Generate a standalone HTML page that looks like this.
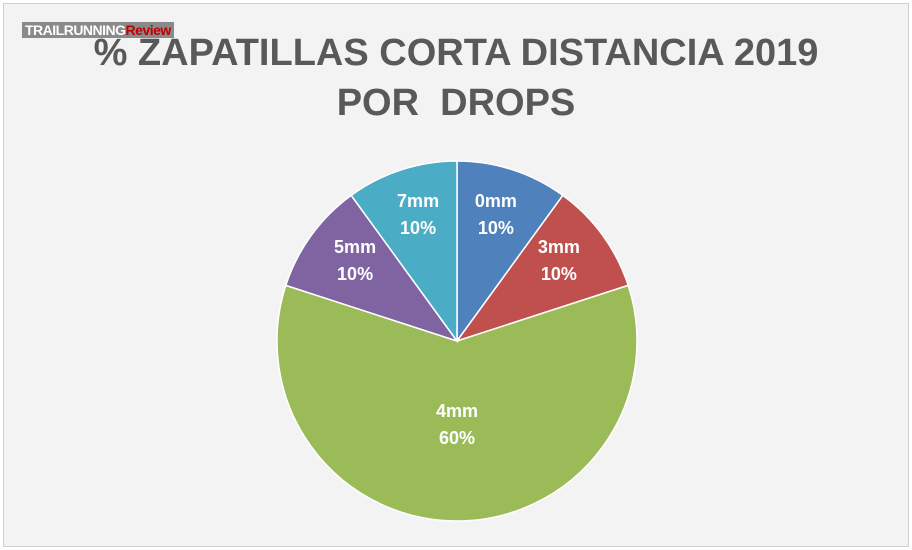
<!DOCTYPE html>
<html><head><meta charset="utf-8"><style>
body{margin:0;width:912px;height:550px;overflow:hidden;background:#fff;font-family:"Liberation Sans",sans-serif}
#frame{position:absolute;left:3px;top:3px;width:904px;height:542px;background:#f3f3f3;border:1px solid #d0d0d0}
#title{position:absolute;left:0;top:28px;width:912px;text-align:center;font-weight:bold;font-size:38px;line-height:50px;color:#595959}
#logo{position:absolute;left:22px;top:22px;font-weight:bold;font-size:14px;color:#fff;background:#8a8a8a;padding:0 3px;letter-spacing:-0.5px}
#logo span{color:#c00000}
</style></head><body>
<div id="frame"></div>
<div id="title">% ZAPATILLAS CORTA DISTANCIA 2019<br>POR&nbsp; DROPS</div>
<div id="logo">TRAILRUNNING<span>Review</span></div>
<svg id="pie" width="912" height="550" style="position:absolute;left:0;top:0"></svg>
<script>
const labels=["0mm","3mm","4mm","5mm","7mm"];
const values=[10,10,60,10,10];
const colors=["#4f81bd","#c0504d","#9bbb59","#8064a2","#4bacc6"];
const svg=document.getElementById('pie');
const NS="http://www.w3.org/2000/svg";
const cx=457,cy=341,r=180;
const total=values.reduce((a,b)=>a+b,0);
let a0=0;
values.forEach((v,i)=>{
  const a1=a0+v/total*2*Math.PI;
  const p=(a)=>[cx+r*Math.sin(a),cy-r*Math.cos(a)];
  const [x0,y0]=p(a0),[x1,y1]=p(a1);
  const path=document.createElementNS(NS,'path');
  path.setAttribute('d',`M${cx},${cy}L${x0},${y0}A${r},${r} 0 ${a1-a0>Math.PI?1:0} 1 ${x1},${y1}Z`);
  path.setAttribute('fill',colors[i]);
  path.setAttribute('stroke','#fff');
  path.setAttribute('stroke-width','1.5');
  
  
  svg.appendChild(path);
  const am=(a0+a1)/2, lr=v/total>0.3?r*0.5:r*0.7;
  const lx=cx+lr*Math.sin(am), ly=cy-lr*Math.cos(am);
  [labels[i],v+'%'].forEach((t,k)=>{
    const tx=document.createElementNS(NS,'text');
    tx.setAttribute('x',lx);tx.setAttribute('y',ly-14+k*27);
    tx.setAttribute('text-anchor','middle');
    tx.setAttribute('fill','#fff');
    tx.setAttribute('font-size','18');tx.setAttribute('font-weight','bold');
    tx.setAttribute('font-family','Liberation Sans, sans-serif');
    tx.textContent=t;
    
    
    svg.appendChild(tx);
  });
  a0=a1;
});
</script>
</body></html>
